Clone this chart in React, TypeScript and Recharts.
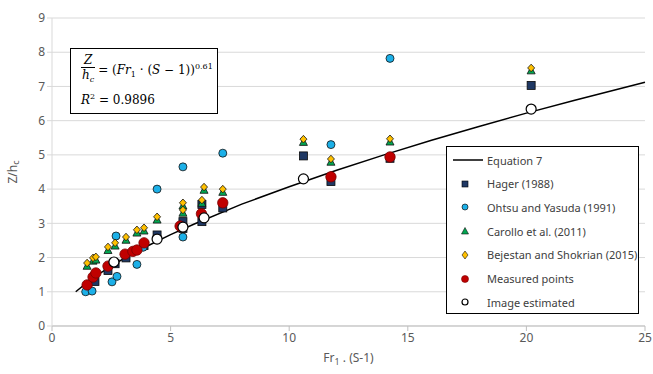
import React from 'react';
import { ScatterChart, Scatter, XAxis, YAxis, CartesianGrid } from 'recharts';

// Equation 7 curve
const eqX = [1, 1.5, 2, 3, 4, 5, 6, 8, 10, 12, 14, 16, 18, 20, 22, 25];
const eqY = [1, 1.28, 1.53, 1.96, 2.33, 2.67, 2.98, 3.56, 4.07, 4.55, 5.0, 5.43, 5.83, 6.22, 6.59, 7.12];

const hagerX = [1.81, 2.36, 2.66, 3.12, 3.88, 4.43, 5.52, 5.52, 6.32, 6.32, 7.2, 10.6, 11.76, 14.25, 20.2];
const hagerY = [1.3, 1.62, 1.82, 1.99, 2.35, 2.66, 2.85, 3.05, 3.05, 3.55, 3.45, 4.97, 4.22, 4.9, 7.03];

const ohtsuX = [1.42, 1.69, 2.53, 2.74, 2.7, 3.58, 3.84, 4.43, 5.52, 5.52, 7.2, 11.76, 14.25];
const ohtsuY = [1.0, 1.02, 1.29, 1.45, 2.63, 1.8, 2.3, 4.0, 4.65, 2.6, 5.05, 5.3, 7.82];

const carolloX = [1.48, 1.73, 1.85, 2.36, 2.66, 3.12, 3.58, 3.88, 4.43, 5.52, 5.52, 6.32, 6.41, 7.2, 10.6, 11.76, 14.25, 20.2];
const carolloY = [1.76, 1.91, 1.94, 2.22, 2.35, 2.52, 2.73, 2.79, 3.11, 3.31, 3.52, 3.6, 3.98, 3.92, 5.38, 4.8, 5.39, 7.47];

const bejestanX = [1.48, 1.73, 1.85, 2.36, 2.66, 3.12, 3.58, 3.88, 4.43, 5.52, 5.52, 6.32, 6.41, 7.2, 10.6, 11.76, 14.25, 20.2];
const bejestanY = [1.84, 1.99, 2.02, 2.31, 2.43, 2.6, 2.81, 2.87, 3.19, 3.39, 3.6, 3.68, 4.06, 4.0, 5.46, 4.88, 5.47, 7.54];

const measuredX = [1.48, 1.73, 1.85, 2.36, 3.08, 3.41, 3.58, 3.88, 5.4, 6.3, 7.2, 11.76, 14.25];
const measuredY = [1.2, 1.43, 1.55, 1.75, 2.1, 2.18, 2.22, 2.43, 2.92, 3.28, 3.6, 4.36, 4.94];

const imageX = [2.61, 4.43, 5.52, 6.41, 10.6, 20.2];
const imageY = [1.87, 2.54, 2.89, 3.16, 4.3, 6.34];

const xTicks = [0, 5, 10, 15, 20, 25];
const yTicks = [0, 1, 2, 3, 4, 5, 6, 7, 8, 9];

const zip = (xs: number[], ys: number[]) => xs.map((x, i) => ({ x, y: ys[i] }));

const FONT = '"Noto Sans", "Open Sans", sans-serif';

const Square = (p: any) => (
  <rect x={p.cx - 4} y={p.cy - 4} width={8} height={8} fill="#1F3864" stroke="#0a0a0a" strokeWidth={0.8} />
);
const BlueDot = (p: any) => <circle cx={p.cx} cy={p.cy} r={4} fill="#1CB0E8" stroke="#111" strokeWidth={0.8} />;
const Tri = (p: any) => (
  <polygon
    points={`${p.cx},${p.cy - 4} ${p.cx + 4},${p.cy + 3.5} ${p.cx - 4},${p.cy + 3.5}`}
    fill="#00A651"
    stroke="#111"
    strokeWidth={0.8}
  />
);
const Diamond = (p: any) => (
  <polygon
    points={`${p.cx},${p.cy - 3.8} ${p.cx + 3.5},${p.cy} ${p.cx},${p.cy + 3.8} ${p.cx - 3.5},${p.cy}`}
    fill="#FFC000"
    stroke="#111"
    strokeWidth={0.8}
  />
);
const RedDot = (p: any) => <circle cx={p.cx} cy={p.cy} r={5.2} fill="#C00000" stroke="#7a0000" strokeWidth={0.8} />;
const WhiteDot = (p: any) => <circle cx={p.cx} cy={p.cy} r={5} fill="#fff" stroke="#000" strokeWidth={1.2} />;

const legendItems = [
  { label: 'Equation 7', icon: 'line' },
  { label: 'Hager (1988)', icon: 'square' },
  { label: 'Ohtsu and Yasuda (1991)', icon: 'blue' },
  { label: 'Carollo et al. (2011)', icon: 'tri' },
  { label: 'Bejestan and Shokrian (2015)', icon: 'diamond' },
  { label: 'Measured points', icon: 'red' },
  { label: 'Image estimated', icon: 'white' },
];

function LegendIcon({ icon }: { icon: string }) {
  const c = { cx: 12, cy: 6 };
  return (
    <svg width={34} height={12} style={{ display: 'block' }}>
      {icon === 'line' && <line x1={0} y1={6} x2={30} y2={6} stroke="#000" strokeWidth={1.5} />}
      {icon === 'square' && <rect x={9} y={3} width={6} height={6} fill="#1F3864" stroke="#000" strokeWidth={0.6} />}
      {icon === 'blue' && <circle {...c} r={3} fill="#1CB0E8" stroke="#111" strokeWidth={0.7} />}
      {icon === 'tri' && <polygon points="12,2.5 15.5,9 8.5,9" fill="#00A651" stroke="#111" strokeWidth={0.6} />}
      {icon === 'diamond' && <polygon points="12,2 15,6 12,10 9,6" fill="#FFC000" stroke="#111" strokeWidth={0.6} />}
      {icon === 'red' && <circle {...c} r={3.5} fill="#C00000" stroke="#7a0000" strokeWidth={0.6} />}
      {icon === 'white' && <circle {...c} r={3} fill="#fff" stroke="#000" strokeWidth={1.2} />}
    </svg>
  );
}

export default function App() {
  return (
    <div style={{ position: 'absolute', left: 0, top: 0, width: 653, height: 374, background: '#fff', fontFamily: FONT }}>
      <ScatterChart width={653} height={374} margin={{ top: 18, right: 8, bottom: 18, left: 22 }}>
        <CartesianGrid horizontal vertical={false} stroke="#D9D9D9" />
        <XAxis
          type="number"
          dataKey="x"
          domain={[0, 25]}
          ticks={xTicks}
          height={30}
          tick={{ fill: '#595959', fontSize: 12, fontFamily: FONT }}
          axisLine={{ stroke: '#BFBFBF' }}
          tickLine={{ stroke: '#BFBFBF' }}
          tickSize={5}
          label={{
            content: (props: any) => {
              const vb = props.viewBox;
              return (
                <text x={vb.x + vb.width / 2} y={362} textAnchor="middle" fill="#595959" fontSize={12} fontFamily={FONT}>
                  Fr<tspan fontSize={9} dy={3}>1</tspan>
                  <tspan dy={-3}> . (S-1)</tspan>
                </text>
              );
            },
          }}
        />
        <YAxis
          type="number"
          dataKey="y"
          domain={[0, 9]}
          ticks={yTicks}
          width={30}
          tick={{ fill: '#595959', fontSize: 12, fontFamily: FONT }}
          axisLine={{ stroke: '#D9D9D9' }}
          tickLine={{ stroke: '#D9D9D9' }}
          tickSize={5}
          label={{
            content: (props: any) => {
              const vb = props.viewBox;
              const cy = vb.y + vb.height / 2;
              return (
                <text x={14} y={cy} transform={`rotate(-90 14 ${cy})`} textAnchor="middle" fill="#595959" fontSize={12} fontFamily={FONT} dominantBaseline="middle">
                  Z/h<tspan fontSize={9} dy={3}>c</tspan>
                </text>
              );
            },
          }}
        />
        <Scatter data={zip(eqX, eqY)} line={{ stroke: '#000', strokeWidth: 1.5 }} lineType="joint" shape={() => <g />} isAnimationActive={false} />
        <Scatter data={zip(hagerX, hagerY)} shape={Square} isAnimationActive={false} />
        <Scatter data={zip(ohtsuX, ohtsuY)} shape={BlueDot} isAnimationActive={false} />
        <Scatter data={zip(carolloX, carolloY)} shape={Tri} isAnimationActive={false} />
        <Scatter data={zip(bejestanX, bejestanY)} shape={Diamond} isAnimationActive={false} />
        <Scatter data={zip(measuredX, measuredY)} shape={RedDot} isAnimationActive={false} />
        <Scatter data={zip(imageX, imageY)} shape={WhiteDot} isAnimationActive={false} />
      </ScatterChart>

      {/* equation box */}
      <div
        style={{
          position: 'absolute',
          left: 70,
          top: 48,
          width: 146,
          height: 64,
          border: '1px solid #000',
          background: '#fff',
          fontFamily: '"DejaVu Serif", "Liberation Serif", serif',
          fontSize: 12,
          color: '#000',
        }}
      >
        <div style={{ position: 'absolute', left: 10, top: 4, display: 'flex', alignItems: 'center' }}>
          <div style={{ display: 'inline-flex', flexDirection: 'column', alignItems: 'center', fontStyle: 'italic' }}>
            <span style={{ lineHeight: '14px' }}>Z</span>
            <span style={{ borderTop: '1px solid #000', lineHeight: '14px', padding: '0 1px' }}>
              h<sub style={{ fontSize: 8 }}>c</sub>
            </span>
          </div>
          <span style={{ marginLeft: 3 }}>
            = (<i>Fr</i><sub style={{ fontSize: 8 }}>1</sub> · (<i>S</i> − 1))<sup style={{ fontSize: 8 }}>0.61</sup>
          </span>
        </div>
        <div style={{ position: 'absolute', left: 10, top: 43 }}>
          <i>R</i><sup style={{ fontSize: 8 }}>2</sup> = 0.9896
        </div>
      </div>

      {/* legend */}
      <div
        style={{
          position: 'absolute',
          left: 446,
          top: 146,
          width: 191,
          height: 166,
          border: '1px solid #000',
          background: '#fff',
        }}
      >
        {legendItems.map((it, i) => (
          <div
            key={it.label}
            style={{ position: 'absolute', left: 6, top: 6 + i * 23.7, display: 'flex', alignItems: 'center', height: 14 }}
          >
            <LegendIcon icon={it.icon} />
            <span style={{ fontSize: 11, color: '#404040', marginLeft: 0, whiteSpace: 'nowrap' }}>{it.label}</span>
          </div>
        ))}
      </div>
    </div>
  );
}
